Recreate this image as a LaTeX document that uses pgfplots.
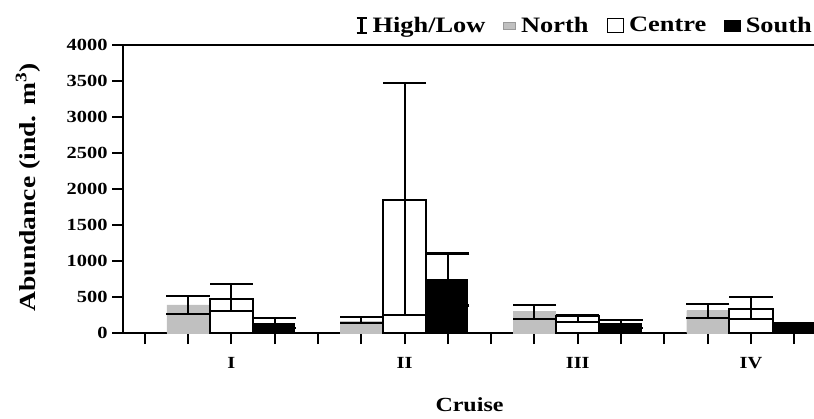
\documentclass[border=0pt]{standalone}
\usepackage{fontspec}
\setmainfont{Liberation Serif}[FakeStretch=1.2]
\usepackage{pgfplots}
\pgfplotsset{compat=1.18}
\definecolor{northgray}{RGB}{192,192,192}
\begin{document}
\begin{tikzpicture}
\useasboundingbox (0,0) rectangle (814pt,418pt);
\begin{axis}[
  at={(123pt,85pt)}, anchor=south west,
  scale only axis, width=693pt, height=288pt,
  xmin=-0.5, xmax=15.5, ymin=0, ymax=4000,
  axis x line*=bottom, axis y line*=left,
  axis line style={line width=2.2pt},
  tick style={line width=2pt, black},
  tick align=outside, major tick length=11pt,
  xtick={0,...,15},
  xticklabels={,,I,,,,II,,,,III,,,,IV,},
  ytick={0,500,...,4000},
  /pgf/number format/assume math mode=true,
  /pgf/number format/1000 sep={},
  ticklabel style={font=\fontsize{17}{19}\selectfont\bfseries},
  yticklabel style={xshift=-1pt},
  xticklabel style={yshift=-10pt},
  ylabel={Abundance (ind. m\textsuperscript{3})},
  xlabel={Cruise},
  ylabel style={font=\fontsize{23}{26}\selectfont\bfseries, at={(axis description cs:-0.137,0.505)}, anchor=center},
  xlabel style={font=\fontsize{20}{23}\selectfont\bfseries, at={(axis description cs:0.5,-0.25)}, anchor=center},
  clip=false,
  legend columns=4,
  legend style={at={(axis description cs:1,1)}, anchor=south east, xshift=-2pt, yshift=9pt,
    draw=none, fill=none, font=\fontsize{22}{25}\selectfont\bfseries,
    column sep=3pt, inner sep=0pt, /tikz/every even column/.append style={column sep=16pt}},
  legend cell align=left,
]
% bars
\addplot[ybar, bar width=0.97, bar shift=0pt, fill=northgray, draw=northgray, forget plot]
  coordinates {(1,389) (5,157) (9,296) (13,310)};
\addplot[ybar, bar width=1, bar shift=0pt, fill=white, draw=black, line width=2pt, forget plot]
  coordinates {(2,472) (6,1847) (10,240) (14,333)};
\addplot[ybar, bar width=0.93, bar shift=0pt, fill=black, draw=black, line width=1pt, forget plot]
  coordinates {(3,135) (7,743) (11,135) (15,135)};
% high-low vertical lines (centre = (high+low)/2, error = (high-low)/2)
\addplot[draw=none, mark=none, forget plot,
  error bars/.cd, y dir=both, y explicit, error mark=none,
  error bar style={draw=black, line width=2pt}]
  table[x=x, y=c, y error=e] {
x c e
1 389 129
2 491 185
3 140.5 71.5
5 176.5 41.5
6 1861 1611
7 743 361
9 291.5 97.5
10 200 50
11 127.5 53.5
13 301.5 97.5
14 343 153
15 102.5 32.5
};
% caps at high and low
\addplot[only marks, mark=-, mark size=21.65pt, mark options={line width=2.2pt, black}, forget plot]
  coordinates {(1,518) (2,676) (3,212) (5,218) (6,3472) (7,1104) (9,389) (10,250) (11,181) (13,399) (14,496) (15,135)};
\addplot[only marks, mark=-, mark size=21.65pt, mark options={line width=2.2pt, black}, forget plot]
  coordinates {(1,260) (2,306) (3,69) (5,135) (6,250) (7,382) (9,194) (10,150) (11,74) (13,204) (14,190) (15,70)};
\draw[line width=2.2pt] (rel axis cs:0,1) -- (rel axis cs:1,1);
% legend
\addlegendimage{legend image code/.code={
  \draw[line width=3pt] (5pt,-7.5pt) -- (5pt,7.5pt);
  \draw[line width=2pt] (0pt,-7.5pt) -- (10pt,-7.5pt);
  \draw[line width=2pt] (0pt,7.5pt) -- (10pt,7.5pt);}}
\addlegendentry{High/Low}
\addlegendimage{legend image code/.code={
  \draw[fill=northgray, draw=northgray!80!black, line width=0.6pt] (0pt,-3.5pt) rectangle (12pt,3.5pt);}}
\addlegendentry{North}
\addlegendimage{legend image code/.code={
  \draw[fill=white, draw=black, line width=1.6pt] (0pt,-7pt) rectangle (16pt,7pt);}}
\addlegendentry{Centre}
\addlegendimage{legend image code/.code={
  \draw[fill=black, draw=black] (0pt,-5.5pt) rectangle (16pt,5.5pt);}}
\addlegendentry{South}
\end{axis}
\end{tikzpicture}
\end{document}
